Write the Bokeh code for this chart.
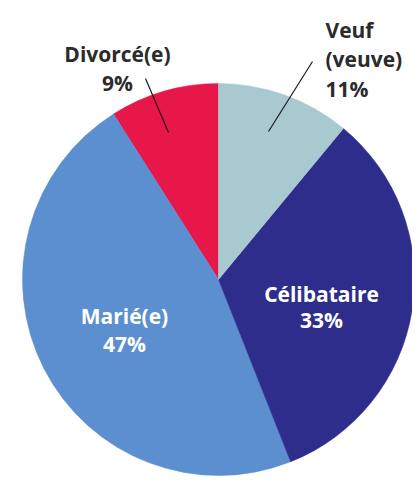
import math
from bokeh.plotting import figure
from bokeh.models import Range1d
from bokeh.core.properties import value
from bokeh.embed import file_html
from bokeh.resources import INLINE

# Data
categories = ["Divorcé(e)", "Marié(e)", "Célibataire", "Veuf (veuve)"]
percents = [9, 47, 33, 11]
colors = ["#e8174a", "#5b8fd0", "#2e2d8b", "#a9c9d1"]

W, H = 412, 477
p = figure(width=W, height=H, output_backend="svg", toolbar_location=None,
           x_range=Range1d(0, W), y_range=Range1d(-H, 0),
           min_border=0)
p.axis.visible = False
p.grid.visible = False
p.outline_line_color = None
p.background_fill_color = "white"

cx, cy, r = 218, -279, 196
start = math.pi / 2
starts, ends = [], []
for v in percents:
    a = v / 100 * 2 * math.pi
    starts.append(start)
    ends.append(start + a)
    start += a

p.wedge(x=[cx] * 4, y=[cy] * 4, radius=r, start_angle=starts, end_angle=ends,
        fill_color=colors, line_color=colors, line_width=0.5)

# leader lines
lines = [((145, 78), (168, 132)), ((312, 61), (268, 131))]
for (x0, y0), (x1, y1) in lines:
    p.line([x0, x1], [-y0, -y1], line_color="#1a1a1a", line_width=1.2)

font = value("Open Sans")
dark = "#2b2b2b"
labels = [
    ("Divorcé(e)", 117, 53, "center", dark),
    (f"{percents[0]}%", 117, 82, "center", dark),
    ("Veuf", 325, 29, "left", dark),
    ("(veuve)", 325, 58, "left", dark),
    (f"{percents[3]}%", 325, 88, "left", dark),
    ("Célibataire", 321, 293, "center", "white"),
    (f"{percents[2]}%", 321, 319, "center", "white"),
    ("Marié(e)", 124, 315, "center", "white"),
    (f"{percents[1]}%", 124, 343, "center", "white"),
]
for t, x, y, al, c in labels:
    p.text(x=[x], y=[-y], text=[t], text_font=font, text_font_style="bold",
           text_font_size="21px", text_align=al, text_baseline="alphabetic",
           text_color=c)

open("out.html", "w").write(file_html(p, INLINE))
